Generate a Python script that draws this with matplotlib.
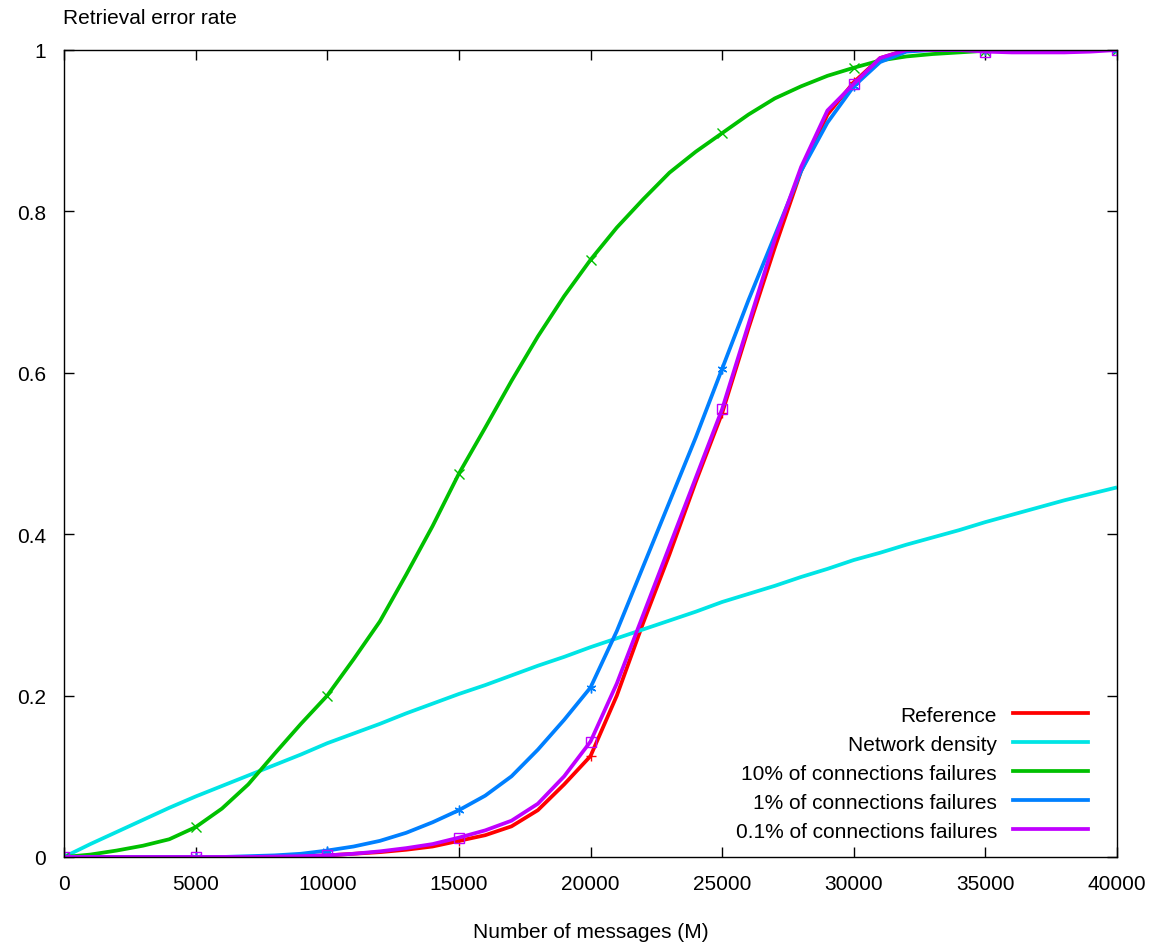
import matplotlib.pyplot as plt
from matplotlib.lines import Line2D

plt.rcParams['font.family'] = ['Liberation Sans', 'DejaVu Sans']

# Number of messages (M)
mensajes = list(range(0, 41000, 1000))

# Retrieval error rate
reference = [0.0, 0.0, 0.0, 0.0, 0.0, 0.0, 0.0, 0.0, 0.0005, 0.001, 0.002,
             0.004, 0.006, 0.009, 0.013, 0.02, 0.027, 0.038, 0.058, 0.09, 0.125,
             0.2, 0.29, 0.375, 0.465, 0.55, 0.655, 0.755, 0.85, 0.92, 0.96,
             0.99, 1.0, 1.0, 1.0, 1.0, 1.0, 1.0, 1.0, 1.0, 1.0]
density = [0.0, 0.016, 0.031, 0.046, 0.061, 0.075, 0.088, 0.101, 0.114, 0.127, 0.141,
           0.153, 0.165, 0.178, 0.19, 0.202, 0.213, 0.225, 0.237, 0.248, 0.26,
           0.271, 0.282, 0.293, 0.304, 0.316, 0.326, 0.336, 0.347, 0.357, 0.368,
           0.377, 0.387, 0.396, 0.405, 0.415, 0.424, 0.433, 0.442, 0.45, 0.458]
fail_10 = [0.0, 0.003, 0.008, 0.014, 0.022, 0.037, 0.06, 0.09, 0.128, 0.165, 0.2,
           0.245, 0.292, 0.35, 0.41, 0.475, 0.532, 0.59, 0.645, 0.695, 0.74,
           0.78, 0.815, 0.848, 0.874, 0.897, 0.92, 0.94, 0.955, 0.968, 0.978,
           0.987, 0.992, 0.995, 0.997, 0.999, 0.999, 1.0, 1.0, 1.0, 1.0]
fail_1 = [0.0, 0.0, 0.0, 0.0, 0.0, 0.0, 0.0, 0.001, 0.002, 0.004, 0.008,
          0.013, 0.02, 0.03, 0.043, 0.058, 0.076, 0.1, 0.133, 0.17, 0.21,
          0.28, 0.36, 0.44, 0.52, 0.605, 0.69, 0.77, 0.85, 0.91, 0.955,
          0.985, 0.998, 1.0, 1.0, 1.0, 1.0, 1.0, 1.0, 1.0, 1.0]
fail_01 = [0.0, 0.0, 0.0, 0.0, 0.0, 0.0, 0.0, 0.0, 0.0005, 0.001, 0.002,
           0.004, 0.007, 0.011, 0.016, 0.024, 0.033, 0.045, 0.066, 0.1, 0.143,
           0.215, 0.3, 0.385, 0.47, 0.555, 0.66, 0.765, 0.855, 0.925, 0.958,
           0.99, 1.0, 1.0, 1.0, 0.998, 0.997, 0.997, 0.997, 0.998, 1.0]

series = [
    ('Reference', reference, '#ff0000', '+', 'full'),
    ('Network density', density, '#00e5e5', None, 'full'),
    ('10% of connections failures', fail_10, '#00c000', 'x', 'full'),
    ('1% of connections failures', fail_1, '#0080ff', (6, 2, 0), 'full'),
    ('0.1% of connections failures', fail_01, '#c000ff', 's', 'none'),
]

fig = plt.figure(figsize=(11.53, 9.45), dpi=100)
ax = fig.add_axes([64 / 1153, 1 - 858 / 945, (1117 - 64) / 1153, (858 - 51) / 945])

handles = []
for nombre, valores, color, marker, fill in series:
    ax.plot(mensajes, valores, color=color, linewidth=2.7, solid_capstyle='butt',
            solid_joinstyle='round')
    if marker is not None:
        ax.plot(mensajes, valores, linestyle='none', marker=marker, markevery=5,
                markersize=7, markeredgewidth=1.0, color=color, fillstyle=fill)
    handles.append(Line2D([], [], color=color, linewidth=2.7))

ax.set_xlim(0, 40000)
ax.set_ylim(0, 1)
ax.set_xticks(range(0, 40001, 5000))
ax.set_yticks([0, 0.2, 0.4, 0.6, 0.8, 1])
ax.set_yticklabels(['0', '0.2', '0.4', '0.6', '0.8', '1'])
ax.tick_params(direction='in', top=True, right=True, length=7, width=1,
               labelsize=15)
ax.tick_params(axis='x', pad=12)
ax.tick_params(axis='y', pad=13)
for s in ax.spines.values():
    s.set_linewidth(1)

ax.set_xlabel('Number of messages (M)', fontsize=15, labelpad=21)
fig.text(63 / 1153, 1 - 18 / 945, 'Retrieval error rate', fontsize=15,
         ha='left', va='center')

ax.legend(handles, [s[0] for s in series], loc='lower right',
          bbox_to_anchor=(0.99, -0.003), frameon=False, markerfirst=False,
          fontsize=15, handlelength=3.6, labelspacing=0.48, handletextpad=0.75)

plt.savefig('out.png', dpi=100)
